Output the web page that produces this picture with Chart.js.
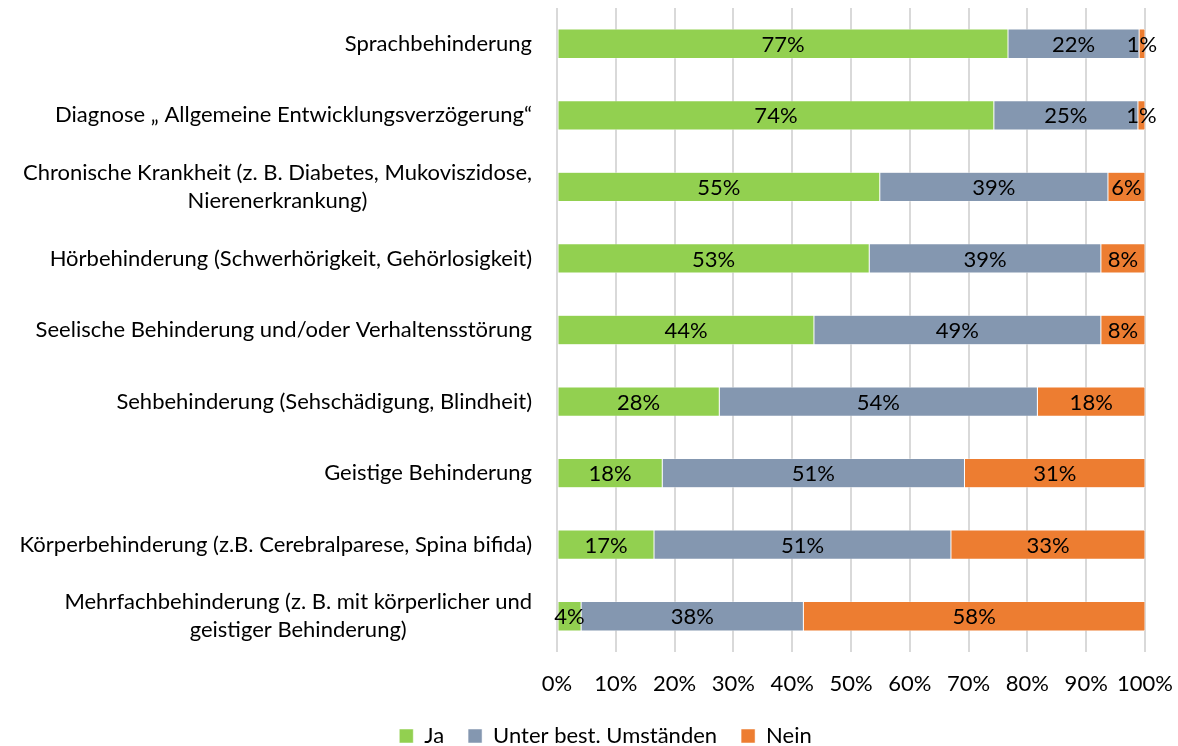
<!DOCTYPE html>
<html>
<head>
<meta charset="utf-8">
<script src="https://cdn.jsdelivr.net/npm/chart.js@4"></script>
<style>
  html, body { margin:0; padding:0; background:#fff; }
  #wrap { width:1178px; height:746px; }
</style>
</head>
<body>
<div id="wrap"><canvas id="c" width="1178" height="746"></canvas></div>
<script>
  // ---------- data ----------
  const categories = [
    ["Sprachbehinderung"],
    ["Diagnose \u201E Allgemeine Entwicklungsverz\u00F6gerung\u201C"],
    ["Chronische Krankheit (z. B. Diabetes, Mukoviszidose,", "Nierenerkrankung)"],
    ["H\u00F6rbehinderung (Schwerh\u00F6rigkeit, Geh\u00F6rlosigkeit)"],
    ["Seelische Behinderung und/oder Verhaltensst\u00F6rung"],
    ["Sehbehinderung (Sehsch\u00E4digung, Blindheit)"],
    ["Geistige Behinderung"],
    ["K\u00F6rperbehinderung (z.B. Cerebralparese, Spina bifida)"],
    ["Mehrfachbehinderung (z. B. mit k\u00F6rperlicher und", "geistiger Behinderung)"]
  ];
  const ja     = [76.7, 74.3, 54.9, 53.1, 43.7, 27.6, 17.9, 16.5, 4.1];
  const unter  = [22.3, 24.5, 38.8, 39.4, 48.8, 54.1, 51.4, 50.5, 37.8];
  const nein   = [1.0, 1.2, 6.3, 7.5, 7.5, 18.3, 30.7, 33.0, 58.1];
  const seriesNames = ["Ja", "Unter best. Umst\u00E4nden", "Nein"];
  const colors = ["#92D050", "#8497B0", "#ED7D31"];
  const xTicks = [0, 10, 20, 30, 40, 50, 60, 70, 80, 90, 100];

  const FONT = "Lato, 'Open Sans', sans-serif";
  const FS = 22;

  // ---------- labels in segments ----------
  const segLabels = {
    id: "segLabels",
    afterDatasetsDraw(chart){
      const ctx = chart.ctx;
      ctx.save();
      ctx.font = FS + "px " + FONT;
      ctx.fillStyle = "#000";
      ctx.textAlign = "center";
      ctx.textBaseline = "middle";
      chart.data.datasets.forEach((ds, di)=>{
        const meta = chart.getDatasetMeta(di);
        meta.data.forEach((bar, i)=>{
          const v = ds.data[i];
          const x = (bar.x + bar.base) / 2;
          ctx.fillText(Math.round(v) + "%", x, bar.y + 1);
        });
      });
      ctx.restore();
    }
  };

  // ---------- category labels (right block, centered lines) ----------
  const catLabels = {
    id: "catLabels",
    afterLayout(chart){
      // center legend on the page, not on the padded area
      chart.legend.left += 33;
      chart.legend.right += 33;
    },
    afterDraw(chart){
      const ctx = chart.ctx;
      const y = chart.scales.y;
      const right = chart.chartArea.left - 25;
      const lh = 28;
      ctx.save();
      ctx.font = FS + "px " + FONT;
      ctx.fillStyle = "#000";
      ctx.textBaseline = "middle";
      ctx.textAlign = "center";
      categories.forEach((lines, i)=>{
        const cy = y.getPixelForValue(i);
        const w = Math.max(...lines.map(l=>ctx.measureText(l).width));
        const cx = right - w/2;
        const y0 = cy - (lines.length-1)*lh/2;
        lines.forEach((l, k)=> ctx.fillText(l, cx, y0 + k*lh));
      });
      ctx.restore();
    }
  };

  new Chart(document.getElementById("c"), {
    type: "bar",
    data: {
      labels: categories.map(l=>l.join(" ")),
      datasets: [ja, unter, nein].map((d, k)=>({
        label: seriesNames[k],
        data: d,
        backgroundColor: colors[k],
        borderColor: "#fff",
        borderWidth: 0.5,
        borderSkipped: false,
        barPercentage: 0.41,
        categoryPercentage: 1
      }))
    },
    options: {
      indexAxis: "y",
      responsive: false,
      animation: false,
      layout: { padding: { top: 8, right: 33, bottom: -11, left: 0 } },
      plugins: {
        legend: {
          position: "bottom",
          labels: {
            font: { family: FONT, size: FS },
            color: "#000",
            boxWidth: 14, boxHeight: 14, padding: 24
          }
        },
        tooltip: { enabled: false }
      },
      scales: {
        x: {
          stacked: true, min: 0, max: 100,
          afterBuildTicks(s){ s.ticks = xTicks.map(v=>({ value:v })); },
          afterFit(s){ s.paddingLeft = 0; s.paddingRight = 0; s.height = 49; },
          ticks: { callback: v=> v + "%", font: { family: FONT, size: FS }, color: "#000", padding: 19, maxRotation: 0, autoSkip: false },
          grid: { color: "#D9D9D9", lineWidth: 2, drawTicks: false },
          border: { display: false }
        },
        y: {
          stacked: true,
          ticks: { display: false },
          grid: { display: false },
          border: { display: false },
          afterFit(s){ s.width = 557; }
        }
      }
    },
    plugins: [segLabels, catLabels]
  });
</script>
</body>
</html>
